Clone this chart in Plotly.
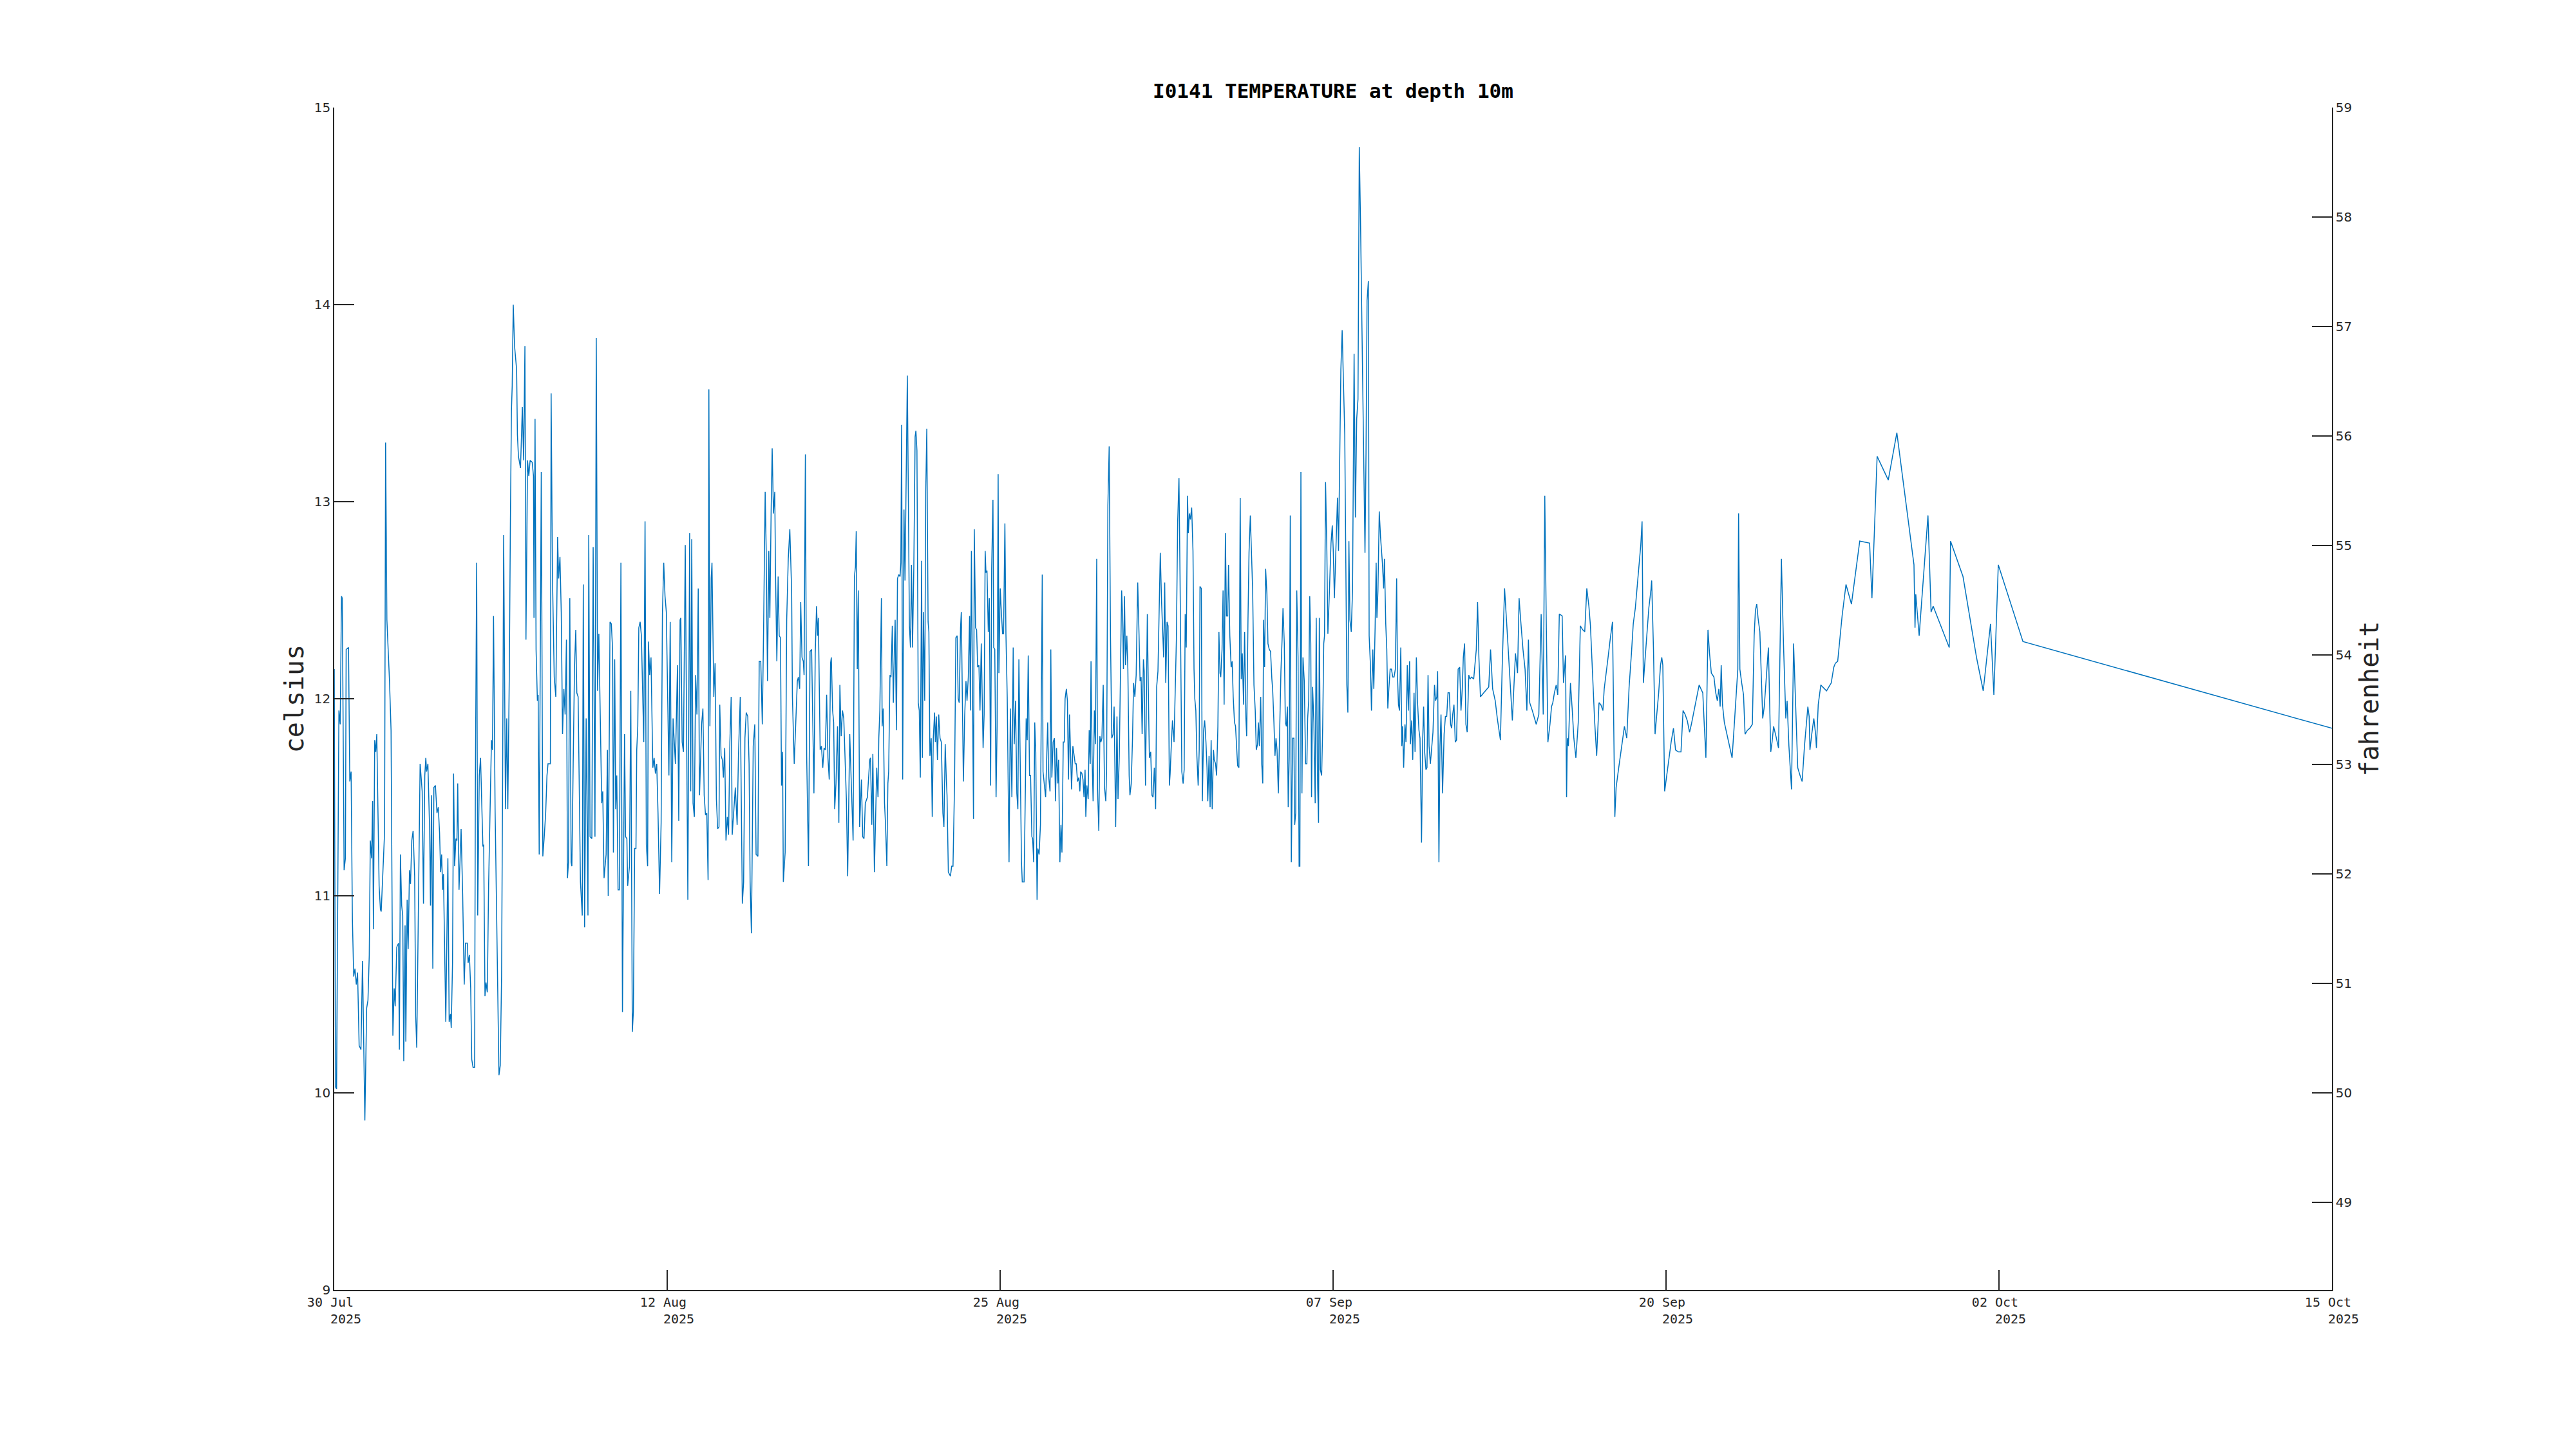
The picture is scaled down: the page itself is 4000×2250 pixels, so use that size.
import pandas as pd
import plotly.graph_objects as go

START = "2025-07-30"
END = "2025-10-15"
TITLE = "I0141 TEMPERATURE at depth 10m"
TICK_DATES = ["30 Jul", "12 Aug", "25 Aug", "07 Sep", "20 Sep", "02 Oct", "15 Oct"]
TICK_YEAR = "2025"
CELSIUS_TICKS = [9, 10, 11, 12, 13, 14, 15]
FAHRENHEIT_TICKS = [49, 50, 51, 52, 53, 54, 55, 56, 57, 58, 59]
CELSIUS_RANGE = [9, 15]

# (days since 30 Jul 2025 00:00, temperature in degC)
seg1 = [(0.00,12.15),(0.05,10.03),(0.09,10.02),(0.18,11.94),(0.23,11.87),(0.28,12.52),(0.31,12.51),(0.38,11.13),(0.43,11.19),(0.46,12.25),(0.55,12.26),(0.60,11.58),(0.65,11.63),(0.70,10.88),(0.75,10.59),(0.80,10.63),(0.85,10.55),(0.90,10.61),(0.96,10.24),(1.03,10.22),(1.09,10.67),(1.18,9.86),(1.25,10.43),(1.30,10.47),(1.35,10.70),(1.39,11.28),(1.44,11.19),(1.48,11.48),(1.51,10.83),(1.56,11.79),(1.60,11.73),(1.64,11.82),(1.73,11.05),(1.78,10.93),(1.81,10.92),(1.88,11.13),(1.94,11.32),(1.98,13.30),(2.03,12.40),(2.13,12.09),(2.19,11.84),(2.26,10.29),(2.31,10.53),(2.35,10.44),(2.41,10.74),(2.48,10.76),(2.51,10.22),(2.55,11.21),(2.60,10.95),(2.64,10.90),(2.68,10.16),(2.73,10.85),(2.76,10.26),(2.81,10.98),(2.85,10.73),(2.90,11.13),(2.94,11.06),(2.99,11.28),(3.04,11.33),(3.10,11.10),(3.14,10.39),(3.18,10.23),(3.23,10.78),(3.28,11.44),(3.31,11.67),(3.39,11.53),(3.44,10.96),(3.49,11.61),(3.53,11.70),(3.56,11.63),(3.61,11.67),(3.68,11.32),(3.71,10.95),(3.75,11.51),(3.80,10.63),(3.84,11.55),(3.90,11.56),(3.96,11.42),(4.01,11.45),(4.06,11.32),(4.10,11.12),(4.14,11.21),(4.18,11.03),(4.21,11.11),(4.26,10.63),(4.30,10.36),(4.38,11.19),(4.43,10.36),(4.48,10.40),(4.51,10.33),(4.56,10.66),(4.60,11.62),(4.64,11.15),(4.69,11.29),(4.73,11.28),(4.76,11.57),(4.81,11.03),(4.89,11.34),(4.95,11.01),(5.01,10.55),(5.06,10.76),(5.13,10.76),(5.16,10.66),(5.21,10.70),(5.26,10.53),(5.30,10.17),(5.35,10.13),(5.41,10.13),(5.44,11.55),(5.49,12.69),(5.53,10.90),(5.59,11.61),(5.64,11.70),(5.73,11.25),(5.76,11.26),(5.81,10.49),(5.85,10.56),(5.90,10.51),(5.95,11.05),(6.01,11.53),(6.06,11.79),(6.10,11.74),(6.14,12.42),(6.20,11.44),(6.28,10.63),(6.35,10.09),(6.40,10.14),(6.45,10.59),(6.49,11.59),(6.53,12.83),(6.60,11.44),(6.65,11.90),(6.69,11.44),(6.75,12.15),(6.79,12.90),(6.83,13.46),(6.86,13.59),(6.90,14.00),(6.95,13.79),(7.03,13.67),(7.06,13.34),(7.10,13.23),(7.18,13.17),(7.25,13.48),(7.30,13.21),(7.35,13.79),(7.39,12.30),(7.45,13.21),(7.50,13.13),(7.55,13.21),(7.63,13.20),(7.68,13.13),(7.70,12.41),(7.74,13.42),(7.78,12.25),(7.83,11.99),(7.86,12.02),(7.90,11.21),(7.98,13.15),(8.04,11.20),(8.09,11.29),(8.15,11.42),(8.20,11.61),(8.24,11.67),(8.33,11.67),(8.36,13.55),(8.41,12.63),(8.48,12.11),(8.54,12.01),(8.61,12.82),(8.65,12.61),(8.70,12.72),(8.75,12.44),(8.80,11.82),(8.85,12.05),(8.90,11.92),(8.95,12.30),(8.99,11.09),(9.03,11.17),(9.08,12.51),(9.13,11.17),(9.16,11.15),(9.21,11.67),(9.26,12.15),(9.31,12.35),(9.35,12.03),(9.40,12.01),(9.49,11.07),(9.56,10.90),(9.60,12.58),(9.65,10.84),(9.71,11.90),(9.78,10.90),(9.81,12.83),(9.86,11.30),(9.93,11.29),(9.98,12.77),(10.05,11.30),(10.10,13.83),(10.15,12.04),(10.20,12.33),(10.26,11.89),(10.31,11.47),(10.35,11.53),(10.40,11.09),(10.48,11.21),(10.53,11.74),(10.56,11.00),(10.63,12.39),(10.68,12.38),(10.73,12.25),(10.76,11.22),(10.81,12.20),(10.85,11.44),(10.89,11.61),(10.94,11.03),(10.99,11.03),(11.05,12.69),(11.11,10.41),(11.19,11.82),(11.23,11.30),(11.28,11.29),(11.31,11.05),(11.38,11.15),(11.43,12.04),(11.49,10.31),(11.53,10.41),(11.58,11.24),(11.63,11.24),(11.66,11.74),(11.70,11.86),(11.74,12.36),(11.79,12.39),(11.84,12.32),(11.88,12.03),(11.93,11.78),(11.98,12.90),(12.03,11.26),(12.08,11.15),(12.11,12.29),(12.16,12.12),(12.21,12.21),(12.28,11.65),(12.33,11.70),(12.38,11.62),(12.43,11.67),(12.48,11.42),(12.54,11.01),(12.60,11.37),(12.65,12.43),(12.70,12.69),(12.75,12.52),(12.80,12.44),(12.85,12.09),(12.90,11.61),(12.95,12.39),(13.01,11.17),(13.06,11.90),(13.15,11.67),(13.23,12.17),(13.28,11.38),(13.33,12.40),(13.36,12.41),(13.41,11.78),(13.46,11.73),(13.53,12.78),(13.56,12.15),(13.63,10.98),(13.70,12.84),(13.74,11.53),(13.78,12.81),(13.83,11.47),(13.88,11.40),(13.93,12.12),(13.98,11.92),(14.03,12.56),(14.08,11.51),(14.11,11.67),(14.16,11.87),(14.21,11.95),(14.26,11.51),(14.31,11.41),(14.36,11.42),(14.41,11.08),(14.44,13.57),(14.48,11.86),(14.53,12.61),(14.56,12.69),(14.63,12.01),(14.68,12.18),(14.73,11.49),(14.78,11.34),(14.83,11.35),(14.86,11.97),(14.91,11.71),(14.96,11.69),(15.00,11.60),(15.05,11.75),(15.10,11.28),(15.15,11.40),(15.20,11.31),(15.25,11.78),(15.30,12.01),(15.34,11.31),(15.40,11.44),(15.46,11.55),(15.53,11.36),(15.58,11.71),(15.65,12.01),(15.73,10.96),(15.78,11.07),(15.83,11.80),(15.88,11.93),(15.94,11.91),(15.99,11.67),(16.03,11.07),(16.08,10.81),(16.15,11.76),(16.21,11.87),(16.26,11.21),(16.33,11.20),(16.38,12.19),(16.44,12.19),(16.50,11.87),(16.55,12.36),(16.61,13.05),(16.65,12.75),(16.70,12.09),(16.75,12.75),(16.79,12.41),(16.84,12.95),(16.88,13.27),(16.93,12.94),(16.98,13.05),(17.01,12.63),(17.06,12.19),(17.11,12.62),(17.15,12.32),(17.20,12.31),(17.24,11.56),(17.28,11.73),(17.31,11.07),(17.38,11.22),(17.44,12.40),(17.50,12.71),(17.56,12.86),(17.63,12.55),(17.66,12.01),(17.73,11.67),(17.79,11.90),(17.85,12.09),(17.89,12.11),(17.94,12.05),(17.98,12.49),(18.03,12.21),(18.08,12.19),(18.11,12.12),(18.16,13.24),(18.21,11.71),(18.28,11.15),(18.34,12.24),(18.40,12.25),(18.45,11.88),(18.49,11.52),(18.54,12.23),(18.59,12.47),(18.63,12.32),(18.66,12.41),(18.73,11.74),(18.78,11.76),(18.83,11.65),(18.88,11.75),(18.93,11.74),(18.98,12.02),(19.03,11.70),(19.08,11.59),(19.13,12.18),(19.16,12.21),(19.21,11.94),(19.25,11.88),(19.29,11.44),(19.34,11.57),(19.40,11.86),(19.45,11.37),(19.49,12.07)]

seg2 = [(19.54,11.81),(19.59,11.94),(19.64,11.90),(19.74,11.49),(19.79,11.10),(19.87,11.82),(19.94,11.55),(20.00,11.28),(20.05,12.62),(20.09,12.67),(20.12,12.85),(20.16,12.15),(20.20,12.55),(20.25,11.35),(20.32,11.59),(20.37,11.30),(20.42,11.29),(20.47,11.47),(20.55,11.50),(20.64,11.69),(20.67,11.70),(20.72,11.36),(20.76,11.72),(20.82,11.12),(20.91,11.65),(20.96,11.50),(20.99,11.80),(21.03,11.94),(21.09,12.51),(21.12,11.86),(21.16,11.95),(21.21,11.47),(21.25,11.36),(21.30,11.15),(21.34,11.57),(21.37,11.63),(21.42,12.12),(21.46,12.11),(21.51,12.37),(21.55,11.98),(21.59,12.25),(21.62,12.40),(21.67,11.84),(21.71,12.61),(21.76,12.63),(21.81,12.62),(21.84,12.69),(21.87,13.39),(21.91,11.59),(21.96,12.96),(22.00,12.60),(22.05,13.17),(22.09,13.64),(22.12,13.17),(22.17,12.37),(22.21,12.26),(22.25,12.68),(22.29,12.26),(22.34,12.67),(22.39,13.33),(22.42,13.36),(22.46,13.26),(22.51,11.98),(22.55,11.94),(22.59,11.60),(22.64,12.70),(22.67,11.70),(22.71,12.44),(22.76,11.99),(22.80,13.05),(22.84,13.37),(22.89,12.39),(22.92,12.34),(22.96,11.71),(23.01,11.80),(23.05,11.40),(23.09,11.80),(23.14,11.93),(23.17,11.78),(23.21,11.91),(23.25,11.69),(23.30,11.92),(23.35,11.80),(23.40,11.78),(23.46,11.42),(23.50,11.35),(23.55,11.77),(23.59,11.60),(23.62,11.51),(23.67,11.12),(23.75,11.10),(23.80,11.15),(23.85,11.15),(23.91,11.57),(23.96,12.31),(24.01,12.32),(24.05,12.00),(24.09,11.98),(24.14,12.36),(24.17,12.44),(24.25,11.58),(24.30,11.91),(24.35,12.09),(24.39,11.99),(24.44,12.11),(24.49,12.42),(24.52,11.94),(24.56,12.75),(24.64,11.39),(24.67,12.86),(24.72,12.36),(24.76,12.35),(24.80,12.16),(24.85,12.17),(24.89,11.94),(24.94,12.28),(25.01,11.75),(25.05,11.92),(25.09,12.75),(25.12,12.64),(25.16,12.65),(25.21,12.34),(25.25,12.51),(25.30,11.56),(25.34,12.66),(25.39,13.01),(25.42,12.26),(25.46,12.25),(25.51,11.50),(25.55,11.86),(25.59,13.14),(25.62,12.13),(25.67,12.56),(25.71,12.45),(25.76,12.33),(25.80,12.33),(25.85,12.89),(25.89,12.33),(25.94,12.01),(26.01,11.17),(26.06,11.95),(26.12,11.50),(26.17,12.26),(26.21,11.77),(26.26,11.99),(26.31,11.52),(26.35,11.44),(26.39,12.20),(26.44,11.71),(26.49,11.17),(26.52,11.07),(26.59,11.07),(26.64,11.55),(26.67,11.90),(26.71,11.79),(26.75,12.22),(26.80,11.61),(26.84,11.61),(26.89,11.30),(26.92,11.29),(26.96,11.17),(27.00,11.88),(27.04,11.73),(27.09,10.98),(27.12,11.24),(27.17,11.21),(27.22,11.36),(27.29,12.63),(27.32,11.63),(27.37,11.57),(27.42,11.50),(27.50,11.88),(27.54,11.60),(27.59,11.53),(27.62,12.25),(27.66,11.60),(27.71,11.78),(27.76,11.80),(27.80,11.48),(27.84,11.75),(27.89,11.57),(27.92,11.69),(27.97,11.17),(28.01,11.36),(28.05,11.22),(28.10,11.78),(28.14,11.78),(28.17,12.00),(28.22,12.05),(28.26,11.99),(28.30,11.59),(28.34,11.92),(28.39,11.71),(28.42,11.54),(28.47,11.76),(28.51,11.71),(28.56,11.67),(28.60,11.67),(28.65,11.58),(28.70,11.60),(28.74,11.53),(28.77,11.63),(28.82,11.62),(28.86,11.59),(28.90,11.50),(28.94,11.64),(28.97,11.40),(29.01,11.56),(29.06,11.49),(29.10,11.84),(29.14,11.67),(29.17,12.19),(29.21,11.71),(29.25,11.48),(29.30,11.94),(29.34,11.77),(29.39,12.71),(29.42,11.55),(29.47,11.33),(29.51,11.81),(29.55,11.78),(29.59,11.80),(29.64,12.07),(29.69,11.55),(29.74,11.48),(29.77,11.63),(29.82,12.98),(29.87,13.28),(29.92,12.32),(29.97,11.80),(30.02,11.82),(30.06,11.96),(30.12,11.35),(30.17,11.91),(30.21,11.49),(30.26,11.71),(30.31,12.24),(30.35,12.55),(30.39,12.40),(30.42,12.15),(30.46,12.52),(30.50,12.17),(30.55,12.32),(30.59,12.15),(30.64,11.61),(30.67,11.51),(30.72,11.57),(30.77,11.80),(30.81,12.08),(30.86,12.01),(30.91,12.12),(30.97,12.59),(31.02,12.33),(31.06,12.09),(31.10,12.11),(31.14,11.82),(31.19,12.20),(31.22,12.14),(31.27,11.56),(31.34,12.43),(31.39,11.94),(31.42,11.70),(31.47,11.73),(31.52,11.51),(31.56,11.50),(31.61,11.65),(31.66,11.44),(31.70,12.06),(31.75,12.14),(31.79,12.40),(31.84,12.74),(31.89,12.49),(31.92,12.36),(31.97,12.21),(32.01,12.59),(32.05,12.08),(32.10,12.39),(32.14,12.37),(32.19,11.56),(32.22,11.62),(32.27,11.78),(32.31,11.89),(32.37,11.78),(32.41,12.05),(32.46,12.30),(32.51,12.90),(32.56,13.12),(32.60,12.63),(32.64,11.86),(32.67,11.63),(32.72,11.57),(32.76,11.64),(32.80,12.43),(32.84,12.26),(32.89,13.03),(32.92,12.84),(32.96,12.94),(33.00,12.91),(33.05,12.97),(33.10,12.75),(33.14,12.15),(33.17,12.00),(33.21,11.94),(33.25,11.71),(33.30,11.56),(33.34,11.74),(33.37,12.57),(33.42,12.56),(33.46,11.48),(33.51,11.84),(33.55,11.89),(33.60,11.78),(33.64,11.65),(33.67,11.48),(33.72,11.71),(33.76,11.45),(33.80,11.79),(33.84,11.44),(33.89,11.74),(33.92,11.69),(33.97,11.67),(34.01,11.61),(34.06,11.86),(34.10,12.34),(34.14,12.13),(34.17,12.11),(34.22,12.25),(34.26,12.55),(34.30,11.97),(34.35,12.84),(34.39,12.42),(34.44,12.42),(34.47,12.68),(34.52,12.32),(34.57,12.16),(34.61,12.19),(34.65,12.01),(34.70,11.88),(34.74,11.86),(34.79,11.73),(34.82,11.66),(34.87,11.65),(34.92,13.02),(34.96,12.10),(35.00,12.23),(35.05,11.97),(35.09,12.34),(35.14,11.90),(35.17,11.81),(35.22,12.40),(35.26,12.74),(35.31,12.93),(35.36,12.71),(35.40,12.55),(35.45,12.07),(35.50,11.94),(35.54,11.74),(35.59,11.77),(35.62,11.88),(35.66,11.76),(35.71,12.01),(35.75,11.67),(35.79,11.57),(35.82,12.40),(35.86,12.16),(35.90,12.66),(35.95,12.53),(35.99,12.28),(36.04,12.25),(36.09,12.24),(36.14,12.10),(36.17,12.05),(36.22,11.88),(36.26,11.71),(36.30,11.80),(36.34,11.74),(36.39,11.52),(36.44,11.89),(36.49,12.14),(36.54,12.32),(36.57,12.46),(36.62,12.28),(36.66,11.88),(36.70,11.86),(36.74,11.96),(36.77,11.45),(36.81,11.71),(36.85,12.93),(36.89,11.17),(36.94,11.80),(36.99,11.80),(37.02,11.36),(37.06,11.42),(37.10,12.55),(37.15,12.21),(37.19,11.15),(37.22,11.15),(37.26,13.15),(37.30,11.52),(37.34,12.21),(37.39,12.09),(37.44,11.67),(37.49,11.67),(37.52,11.90),(37.56,11.99),(37.60,12.52),(37.64,12.28),(37.67,11.50),(37.71,12.06),(37.76,11.88),(37.81,11.47),(37.85,12.41),(37.90,11.59),(37.94,11.37),(37.97,12.41),(38.01,11.64),(38.06,11.61),(38.10,11.86),(38.14,12.28),(38.17,12.32),(38.21,13.10),(38.26,12.75),(38.30,12.33),(38.35,12.51),(38.39,12.65),(38.42,12.79),(38.47,12.88),(38.51,12.74),(38.55,12.51),(38.60,12.73),(38.64,12.88),(38.67,13.02),(38.71,12.75),(38.76,13.28),(38.80,13.67),(38.85,13.87)]

seg3 = [(38.91,13.57),(38.95,13.34),(39.00,12.55),(39.03,12.07),(39.07,11.93),(39.11,12.80),(39.15,12.40),(39.20,12.34),(39.25,12.55),(39.31,13.75),(39.36,12.92),(39.41,13.42),(39.46,13.52),(39.51,14.80),(39.56,14.40),(39.61,13.86),(39.66,13.32),(39.73,12.74),(39.77,13.25),(39.81,14.02),(39.86,14.12),(39.89,12.32),(39.94,12.17),(39.98,11.94),(40.03,12.25),(40.07,12.05),(40.12,12.36),(40.16,12.69),(40.19,12.41),(40.23,12.55),(40.28,12.95),(40.33,12.82),(40.40,12.69),(40.45,12.56),(40.48,12.71),(40.53,12.38),(40.57,12.25),(40.61,11.95),(40.65,12.05),(40.70,12.15),(40.75,12.15),(40.80,12.11),(40.85,12.11),(40.90,12.15),(40.95,12.61),(40.98,12.13),(41.02,11.97),(41.06,11.94),(41.11,12.26),(41.15,11.76),(41.18,11.86),(41.22,11.65),(41.27,11.87),(41.31,11.78),(41.36,12.17),(41.40,11.94),(41.45,12.19),(41.48,11.77),(41.53,11.89),(41.57,11.69),(41.62,12.03),(41.66,11.73),(41.71,12.21),(41.76,11.97),(41.81,11.84),(41.85,11.80),(41.91,11.27),(41.95,11.78),(41.99,11.96),(42.03,11.73),(42.08,11.64),(42.12,11.65),(42.16,12.12),(42.20,11.76),(42.25,11.67),(42.30,11.74),(42.35,11.83),(42.41,12.07),(42.45,11.99),(42.50,12.01),(42.53,12.14),(42.58,11.17),(42.62,11.76),(42.66,11.92),(42.72,11.52),(42.78,11.82),(42.83,11.91),(42.88,11.91),(42.93,12.03),(42.98,12.03),(43.03,11.87),(43.07,11.85),(43.11,11.92),(43.16,11.97),(43.21,11.78),(43.26,11.79),(43.32,12.15),(43.38,12.16),(43.43,11.94),(43.48,12.05),(43.52,12.21),(43.57,12.28),(43.62,11.87),(43.67,11.83),(43.73,12.12),(43.78,12.10),(43.84,12.11),(43.92,12.10),(44.02,12.25),(44.07,12.49),(44.12,12.21),(44.18,12.01),(44.25,12.02),(44.37,12.04),(44.50,12.06),(44.57,12.25),(44.65,12.05),(44.75,11.99),(44.83,11.90),(44.95,11.79),(45.02,12.17),(45.11,12.56),(45.22,12.32),(45.32,12.11),(45.41,11.89),(45.48,12.09),(45.53,12.23),(45.61,12.13),(45.67,12.51),(45.73,12.40),(45.82,12.25),(45.90,12.15),(45.97,11.94),(46.03,12.30),(46.08,11.98),(46.18,11.94),(46.27,11.90),(46.33,11.87),(46.43,11.92),(46.52,12.43),(46.60,11.92),(46.66,13.03),(46.72,12.36),(46.78,11.78),(46.86,11.87),(46.92,11.96),(46.97,11.98),(47.03,12.03),(47.10,12.07),(47.16,12.02),(47.22,12.43),(47.33,12.42),(47.38,12.08),(47.46,12.22),(47.50,11.50),(47.53,11.80),(47.57,11.76),(47.65,12.08),(47.72,11.94),(47.78,11.80),(47.86,11.70),(47.95,11.88),(48.03,12.37),(48.12,12.35),(48.20,12.34),(48.28,12.56),(48.36,12.47),(48.42,12.37),(48.50,12.13),(48.58,11.89),(48.66,11.71),(48.75,11.98),(48.82,11.97),(48.90,11.94),(48.95,12.05),(49.02,12.12),(49.10,12.21),(49.18,12.30),(49.27,12.39),(49.36,11.40),(49.41,11.55),(49.50,11.64),(49.57,11.71),(49.65,11.79),(49.73,11.86),(49.82,11.80),(49.91,12.06),(50.00,12.23),(50.07,12.38),(50.15,12.46),(50.22,12.56),(50.30,12.67),(50.36,12.78),(50.41,12.90),(50.46,12.08),(50.52,12.19),(50.60,12.33),(50.67,12.46),(50.75,12.55),(50.78,12.60),(50.85,12.25),(50.91,11.82),(50.97,11.91),(51.05,12.03),(51.12,12.17),(51.17,12.21),(51.21,12.17),(51.28,11.53),(51.36,11.61),(51.45,11.70),(51.53,11.78),(51.62,11.85),(51.70,11.74),(51.81,11.73),(51.91,11.73),(51.99,11.94),(52.07,11.92),(52.15,11.89),(52.24,11.83),(52.31,11.87),(52.39,11.92),(52.47,11.98),(52.55,12.03),(52.61,12.07),(52.68,12.05),(52.75,12.03),(52.81,11.86),(52.87,11.70),(52.95,12.35),(53.01,12.23),(53.08,12.13),(53.18,12.11),(53.25,12.03),(53.31,11.99),(53.37,12.05),(53.42,11.96),(53.46,12.17),(53.51,11.97),(53.58,11.88),(53.66,11.83),(53.75,11.78),(53.82,11.73),(53.88,11.70),(53.96,11.86),(54.03,12.01),(54.10,12.15),(54.13,12.94),(54.18,12.15),(54.25,12.08),(54.32,12.02),(54.38,11.82),(54.47,11.84),(54.56,11.85),(54.66,11.87),(54.73,12.32),(54.78,12.45),(54.83,12.48),(54.88,12.41),(54.95,12.34),(55.01,12.09),(55.06,11.90),(55.12,11.96),(55.20,12.10),(55.28,12.26),(55.32,12.02),(55.37,11.73),(55.42,11.78),(55.48,11.86),(55.57,11.81),(55.67,11.75),(55.78,12.71),(55.86,12.28),(55.95,11.90),(56.00,11.99),(56.07,11.76),(56.17,11.54),(56.25,12.28),(56.32,11.97),(56.41,11.65),(56.50,11.61),(56.58,11.58),(56.67,11.76),(56.73,11.86),(56.80,11.96),(56.85,11.91),(56.88,11.74),(56.95,11.82),(57.03,11.90),(57.10,11.82),(57.13,11.75),(57.20,11.97),(57.30,12.07),(57.37,12.06),(57.45,12.05),(57.52,12.04),(57.61,12.06),(57.70,12.08),(57.80,12.16),(57.86,12.18),(57.95,12.19),(58.02,12.28),(58.12,12.42)]

seg4 = [(58.27,12.58),(58.48,12.48),(58.80,12.80),(59.18,12.79),(59.27,12.51),(59.47,13.23),(59.90,13.11),(60.23,13.35),(60.89,12.68),(60.93,12.36),(60.96,12.53),(61.09,12.32),(61.43,12.93),(61.55,12.44),(61.63,12.47),(62.25,12.26),(62.30,12.80),(62.78,12.62),(63.30,12.21),(63.56,12.04),(63.84,12.38),(63.97,12.02),(64.14,12.68),(65.09,12.29),(77.00,11.85)]

readings = seg1 + seg2 + seg3 + seg4
days = [d for d, _ in readings]
temp_c = [t for _, t in readings]
temp_f = [t * 1.8 + 32 for t in temp_c]

t0 = pd.Timestamp(START)
t1 = pd.Timestamp(END)
times = t0 + pd.to_timedelta(days, unit="D")

n_int = len(TICK_DATES) - 1
tick_vals = [t0 + (t1 - t0) * k / n_int for k in range(len(TICK_DATES))]
NB = "\u00a0"
tick_text = [f"{d}{NB}<br>{NB*3}{TICK_YEAR}" for d in TICK_DATES]

f_range = [CELSIUS_RANGE[0] * 1.8 + 32, CELSIUS_RANGE[1] * 1.8 + 32]

AX = "#262626"
fig = go.Figure()
fig.add_trace(go.Scatter(x=times, y=temp_c, mode="lines",
                         line=dict(color="#0072BD", width=1.5),
                         showlegend=False, hoverinfo="skip"))
# same series in fahrenheit, drawn invisibly so the right axis is attached
fig.add_trace(go.Scatter(x=times, y=temp_f, mode="lines", yaxis="y2",
                         line=dict(color="rgba(0,0,0,0)", width=0),
                         showlegend=False, hoverinfo="skip"))

common = dict(ticks="inside", ticklen=31, tickwidth=1.5, tickcolor=AX,
              showline=True, linecolor=AX, linewidth=1.6, showgrid=False,
              zeroline=False, automargin=False, mirror=False)

fig.update_layout(
    width=4000, height=2250,
    margin=dict(l=511, r=387, t=159, b=255, pad=0),
    paper_bgcolor="white", plot_bgcolor="white",
    showlegend=False,
    title=dict(text=f"<b>{TITLE}</b>", x=0.5, xref="paper", xanchor="center",
               y=1 - 133 / 2250, yref="container", yanchor="middle",
               font=dict(family="DejaVu Sans Mono", size=31, color="black")),
    xaxis=dict(type="date", range=[t0, t1], tickmode="array",
               tickvals=tick_vals, ticktext=tick_text,
               tickfont=dict(family="DejaVu Sans Mono", size=20, color=AX),
               **common),
    yaxis=dict(range=CELSIUS_RANGE, tickmode="array", tickvals=CELSIUS_TICKS,
               ticktext=[str(v) for v in CELSIUS_TICKS],
               tickfont=dict(family="DejaVu Sans", size=20, color=AX),
               title=dict(text="celsius", standoff=4,
                          font=dict(family="DejaVu Sans Mono", size=40, color=AX)),
               **common),
    yaxis2=dict(overlaying="y", side="right", anchor="x", range=f_range,
                tickmode="array", tickvals=FAHRENHEIT_TICKS,
                ticktext=[str(v) for v in FAHRENHEIT_TICKS],
                tickfont=dict(family="DejaVu Sans", size=20, color=AX),
                title=dict(text="fahrenheit", standoff=14,
                           font=dict(family="DejaVu Sans Mono", size=40, color=AX)),
                **common),
)

fig.write_html("out.html")
